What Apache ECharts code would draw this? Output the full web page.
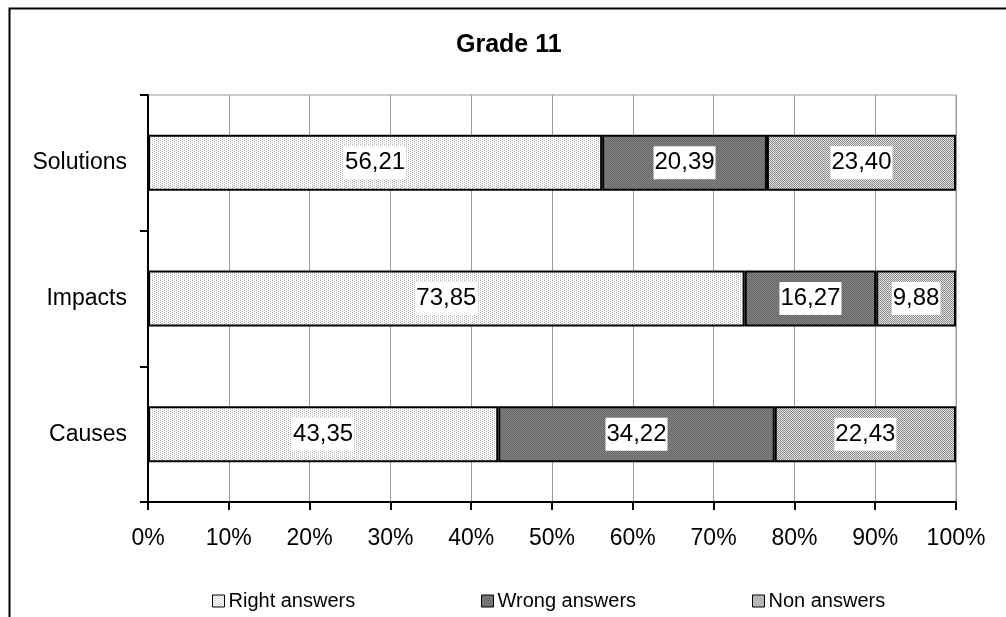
<!DOCTYPE html>
<html>
<head>
<meta charset="utf-8">
<script src="https://cdn.jsdelivr.net/npm/echarts@6/dist/echarts.min.js"></script>
<style>
html,body{margin:0;padding:0;background:#fff;}
#chart{width:1006px;height:617px;}
</style>
</head>
<body>
<div id="chart"></div>
<script>
// ---- data ----
const categories = ['Causes', 'Impacts', 'Solutions'];
const seriesNames = ['Right answers', 'Wrong answers', 'Non answers'];
const rightAnswers = [43.35, 73.85, 56.21];
const wrongAnswers = [34.22, 16.27, 20.39];
const nonAnswers = [22.43, 9.88, 23.40];
const titleText = 'Grade 11';

// ---- patterns ----
function makePattern(size, bg, fg, cells) {
  const c = document.createElement('canvas');
  c.width = size; c.height = size;
  const ctx = c.getContext('2d');
  ctx.fillStyle = bg; ctx.fillRect(0, 0, size, size);
  ctx.fillStyle = fg;
  cells.forEach(p => ctx.fillRect(p[0], p[1], 1, 1));
  return {image: c, repeat: 'repeat'};
}
const patRight = makePattern(4, '#ffffff', '#b0b0b0', [[0,0],[2,1],[0,2],[2,3]]);
const patWrong = makePattern(2, '#868686', '#646464', [[0,0],[1,1]]);
const patNon = makePattern(2, '#e4e4e4', '#8a8a8a', [[0,0],[1,1]]);
const patterns = [patRight, patWrong, patNon];
const dataSets = [rightAnswers, wrongAnswers, nonAnswers];

const fmt = v => v.toFixed(2).replace('.', ',');
const font = 'Liberation Sans, Arial, sans-serif';

const chart = echarts.init(document.getElementById('chart'));
const legendLefts = [212, 481, 752];

chart.setOption({
  backgroundColor: '#ffffff',
  animation: false,
  title: {
    text: titleText,
    left: 456, top: 33, padding: 0,
    textStyle: {fontFamily: font, fontSize: 25, fontWeight: 'bold', color: '#000'}
  },
  legend: seriesNames.map((n, i) => ({
    data: [n],
    left: legendLefts[i], top: 591, padding: 0,
    icon: 'rect', itemWidth: 12, itemHeight: 12,
    itemStyle: {borderColor: '#000', borderWidth: 1},
    textStyle: {fontFamily: font, fontSize: 20, color: '#000', padding: [0,0,0,-1]}
  })),
  grid: {
    left: 148, right: 50, top: 95, bottom: 115,
    show: true, borderColor: '#9a9a9a', borderWidth: 1, backgroundColor: 'transparent'
  },
  xAxis: {
    type: 'value', min: 0, max: 100, interval: 10,
    axisLine: {show: true, lineStyle: {color: '#000', width: 2}},
    axisTick: {show: true, length: 8, lineStyle: {color: '#000', width: 2}},
    axisLabel: {formatter: '{value}%', fontFamily: font, fontSize: 23, color: '#000', margin: 25},
    splitLine: {show: true, lineStyle: {color: '#9a9a9a', width: 1}}
  },
  yAxis: {
    type: 'category', data: categories,
    axisLine: {show: true, lineStyle: {color: '#000', width: 2}},
    axisTick: {show: true, length: 8, lineStyle: {color: '#000', width: 2}},
    axisLabel: {fontFamily: font, fontSize: 23, color: '#000', margin: 21},
    splitLine: {show: false}
  },
  series: seriesNames.map((n, i) => ({
    name: n, type: 'bar', stack: 'total',
    data: dataSets[i],
    barWidth: 56,
    itemStyle: {color: patterns[i], borderColor: '#000', borderWidth: 2},
    label: {
      show: true, position: 'inside',
      formatter: p => fmt(p.value),
      fontFamily: font, fontSize: 24, color: '#000',
      backgroundColor: '#fff', padding: [5, 1, 4, 1]
    }
  })),
  graphic: [{
    type: 'rect', left: 7, top: 6, z: 100,
    shape: {x: 0, y: 0, width: 1020, height: 640},
    style: {fill: 'none', stroke: '#000', lineWidth: 2}
  }]
});
</script>
</body>
</html>
